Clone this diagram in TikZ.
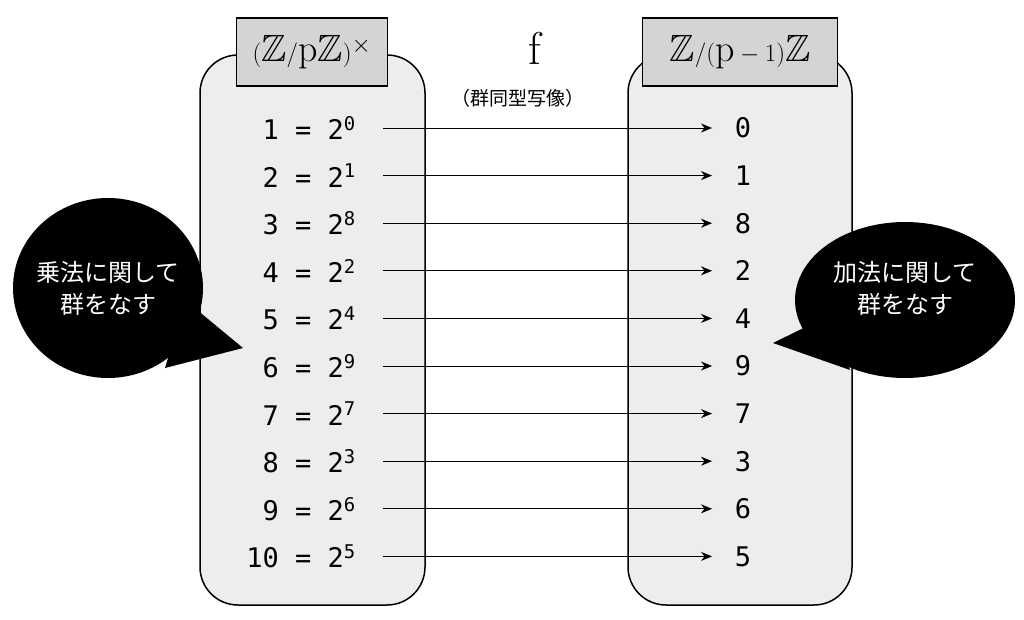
\documentclass[tikz,border=0pt]{standalone}
\usepackage{fontspec}
\setmonofont{DejaVu Sans Mono}
\newfontfamily\jpfont{Noto Sans CJK JP}
\usepackage{amssymb}
\usetikzlibrary{positioning,arrows.meta}
\tikzset{
  setbox/.style={draw, line width=1.5pt, rounded corners=38pt, fill=black!7},
  titlebox/.style={draw, line width=1.5pt, fill=black!17, minimum height=68pt, font=\fontsize{38}{40}\selectfont},
  elem/.style={font=\ttfamily\fontsize{27}{30}\selectfont, inner sep=0pt},
  bubble/.style={fill=black, text=white, font=\jpfont\fontsize{24}{32}\selectfont, align=center},
  maparrow/.style={-{Stealth[length=11pt,width=9pt]}, line width=0.8pt}
}
\begin{document}
\begin{tikzpicture}[x=1pt,y=1pt,yscale=-1]
  \useasboundingbox (0,0) rectangle (1024,620);

  % sets
  \draw[setbox] (200,55) rectangle (425,605);
  \draw[setbox] (628,55) rectangle (852,605);
  \node[titlebox, minimum width=151pt] (mulgrp) at (312,52) {$(\mathbb{Z}/\mathrm{p}\mathbb{Z})^{\times}$};
  \node[titlebox, minimum width=195pt] (addgrp) at (740,52) {$\mathbb{Z}/(\mathrm{p}-1)\mathbb{Z}$};

  % map
  \node[font=\fontsize{46}{48}\selectfont] (fmap) at (535,48) {f};
  \node[font=\jpfont\fontsize{19}{22}\selectfont] (iso) at (518,98) {（群同型写像）};

  % elements
  \foreach \a/\e/\b [count=\i from 0] in {1/0/0,2/1/1,3/8/8,4/2/2,5/4/4,6/9/9,7/7/7,8/3/3,9/6/6,10/5/5}{
    \node[elem, anchor=east] (l\i) at (356,{128+47.6*\i}) {\a{} = 2\textsuperscript{\e}};
    \node[elem] (r\i) at (743,{128+47.6*\i}) {\b};
    \coordinate (s\i) at (383,{128+47.6*\i});
    \coordinate (t\i) at (712,{128+47.6*\i});
    \draw[maparrow] (s\i) -- (t\i);
  }

  % bubbles
  \fill (185,300) -- (243,348) -- (165,368) -- cycle;
  \fill (108,288) ellipse [x radius=95, y radius=90];
  \node[bubble] (mulnote) at (108,288) {乗法に関して\\群をなす};
  \fill (830,315) -- (773,343) -- (850,370) -- cycle;
  \fill (905,300) ellipse [x radius=110, y radius=78];
  \node[bubble] (addnote) at (905,288) {加法に関して\\群をなす};
\end{tikzpicture}
\end{document}
